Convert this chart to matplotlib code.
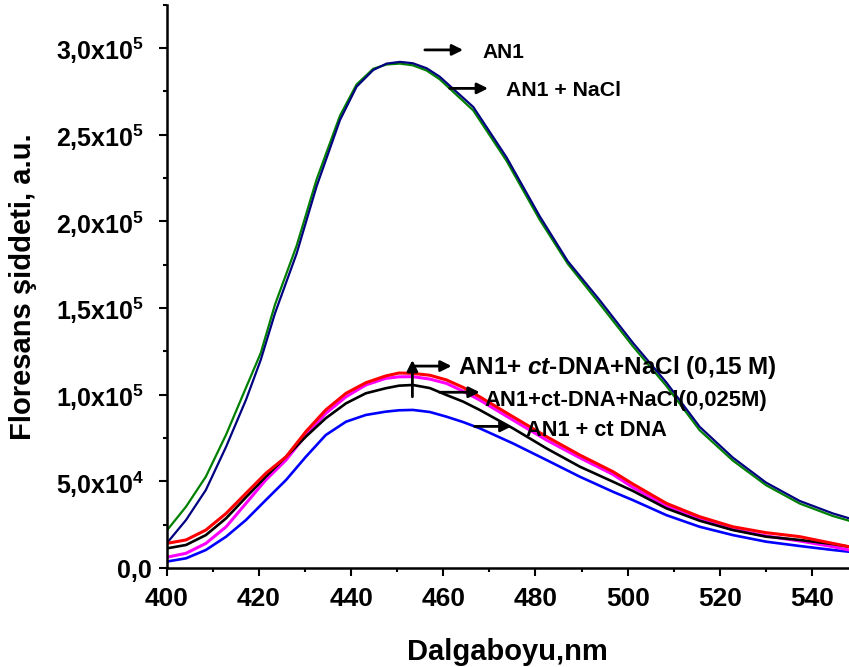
import matplotlib
matplotlib.use('Agg')
import matplotlib.pyplot as plt
from matplotlib.ticker import MultipleLocator, FixedLocator, FixedFormatter

plt.rcParams['font.family'] = ['Liberation Sans', 'DejaVu Sans']
plt.rcParams['font.weight'] = 'bold'
plt.rcParams['mathtext.fontset'] = 'custom'
plt.rcParams['mathtext.rm'] = 'Liberation Sans:bold'
plt.rcParams['mathtext.bf'] = 'Liberation Sans:bold'
plt.rcParams['mathtext.it'] = 'Liberation Sans:bold:italic'
plt.rcParams['mathtext.default'] = 'rm'

# wavelengths (nm) and intensities (x1000)
wl_top = [400, 404.2, 408.5, 412.9, 417.2, 420.4, 423.5, 428.2, 432.5, 437.6, 441.2,
          444.8, 447.7, 450.6, 453.4, 456.4, 459.2, 466.5, 473.7, 480.9, 487,
          493.9, 501.1, 508.4, 515.6, 522.8, 530, 537.3, 544.5, 548]
an1 = [14.2, 27.7, 45, 70, 97, 120, 147, 181.5, 220, 258.5, 277.7,
       287.3, 291, 292, 291.2, 288.3, 283.5, 266, 237, 203, 177,
       154.6, 130, 107, 81.5, 63.7, 49.3, 38.7, 31.5, 28.7]
an1_nacl = [21.5, 35.4, 52.7, 77, 104, 124, 152, 186, 224, 261, 279,
            288, 290.5, 291, 290, 287, 282, 264, 235, 201, 175.5,
            152.5, 128, 105, 79.5, 62, 47.8, 37.2, 30, 27.3]

wl_low = [400, 404.2, 408.5, 412.9, 417.2, 421.5, 425.9, 430.2, 434.5, 438.9, 443.2,
          447.5, 450.4, 453.4, 457.1, 460.7, 464.3, 467.9, 475.1, 482.4, 489.6,
          496.8, 501.1, 508.4, 515.6, 522.8, 530, 537.3, 544.5, 548]
dna_nacl_015 = [14.2, 16.2, 21.9, 31.5, 43.1, 54.6, 64.2, 78.7, 91.2, 100.8, 106.9,
                110.8, 112.5, 112.3, 111.2, 108.5, 104.2, 98.8, 87.3, 75.8, 65.2,
                55.6, 48.5, 37.3, 29.6, 23.8, 20.4, 18.1, 14.2, 12.3]
dna_nacl_0025 = [6.2, 8.5, 14.2, 23.8, 37.3, 50.8, 62.3, 76.7, 89.2, 98.8, 105.6,
                 109.4, 110.3, 110.4, 109, 106.5, 102, 96.9, 85.4, 73.8, 63.6,
                 54, 46.5, 35.8, 28.1, 22.3, 18.5, 15.6, 12.3, 10.4]
dna_mid = [11.3, 13.3, 19, 28.7, 40.8, 52.7, 64.2, 75.8, 86.4, 95, 100.8,
           103.7, 105.2, 105.6, 103.8, 99.8, 96, 91.2, 80.6, 69, 58.5,
           49.8, 44.5, 34.4, 27.3, 21.9, 18.1, 16.2, 13.8, 12.3]
an1_dna = [3.7, 5.6, 10.4, 18.1, 27.7, 39.2, 50.8, 64.2, 76.7, 84.4, 88.3,
           90.2, 91, 91.2, 90, 87.3, 84.2, 80.6, 71.9, 62.3, 52.7,
           44, 39.2, 30.5, 23.8, 19, 15.2, 12.7, 10.4, 9.4]

yticks = [0, 50000, 100000, 150000, 200000, 250000, 300000]
ytick_labels = ['0,0', '5,0x10$^{4}$  ', '1,0x10$^{5}$  ', '1,5x10$^{5}$  ',
                '2,0x10$^{5}$  ', '2,5x10$^{5}$  ', '3,0x10$^{5}$  ']


def k(vals):
    return [v * 1000 for v in vals]


fig = plt.figure(figsize=(8.49, 6.67), dpi=100)
ax = fig.add_axes([0.1963, 0.1484, 0.8037, 0.8446])

ax.plot(wl_top, k(an1_nacl), color='#008000', lw=1.6)
ax.plot(wl_top, k(an1), color='#000080', lw=1.6)
ax.plot(wl_low, k(an1_dna), color='#0000ff', lw=1.9)
ax.plot(wl_low, k(dna_nacl_0025), color='#ff00ff', lw=2.2)
ax.plot(wl_low, k(dna_mid), color='black', lw=1.9)
ax.plot(wl_low, k(dna_nacl_015), color='#ff0000', lw=2.2)

ax.set_xlim(400, 548)
ax.set_ylim(0, 325000)

ax.spines['top'].set_visible(False)
ax.spines['right'].set_visible(False)
for s in ['left', 'bottom']:
    ax.spines[s].set_linewidth(1.8)

ax.xaxis.set_major_locator(MultipleLocator(20))
ax.xaxis.set_minor_locator(MultipleLocator(10))
ax.yaxis.set_major_locator(FixedLocator(yticks))
ax.yaxis.set_major_formatter(FixedFormatter(ytick_labels))
ax.yaxis.set_minor_locator(MultipleLocator(25000))
ax.tick_params(which='major', direction='out', length=5.5, width=1.5)
ax.tick_params(which='minor', direction='out', length=3, width=1.5)
ax.tick_params(axis='x', which='major', labelsize=19, pad=8)
ax.tick_params(axis='y', which='major', labelsize=18, pad=5)

ax.set_xlabel('Dalgaboyu,nm', fontsize=21, fontweight='bold')
ax.xaxis.set_label_coords(0.5, -0.125)
ax.set_ylabel('Floresans şiddeti, a.u.', fontsize=21, fontweight='bold')
ax.yaxis.set_label_coords(-0.19, 0.5)

arrow = dict(arrowstyle='-|>', color='black', lw=2, mutation_scale=16, shrinkA=0, shrinkB=0)

ax.annotate('', xy=(464.3, 298900), xytext=(456, 298900), arrowprops=arrow)
ax.text(468.6, 297300, 'AN1', fontsize=15, va='center', ha='left')

ax.annotate('', xy=(469.7, 276700), xytext=(461.4, 276700), arrowprops=arrow)
ax.text(473.5, 275400, 'AN1 + NaCl', fontsize=15.3, va='center', ha='left')

ax.annotate('', xy=(453.3, 120000), xytext=(453.3, 98800), arrowprops=arrow)
ax.annotate('', xy=(461.8, 116500), xytext=(453.5, 116500), arrowprops=arrow)
ax.text(463.3, 115400, 'AN1+ $\\mathit{ct}$-DNA+NaCl (0,15 M)', fontsize=17.5, va='center', ha='left')

ax.annotate('', xy=(467.9, 101400), xytext=(459.2, 101400), arrowprops=arrow)
ax.text(469, 96900, 'AN1+ct-DNA+NaCl(0,025M)', fontsize=15.8, va='center', ha='left')

ax.annotate('', xy=(474.8, 81700), xytext=(466.8, 81700), arrowprops=arrow)
ax.text(478, 79200, 'AN1 + ct DNA', fontsize=15.7, va='center', ha='left')

fig.savefig('out.png', dpi=100)
